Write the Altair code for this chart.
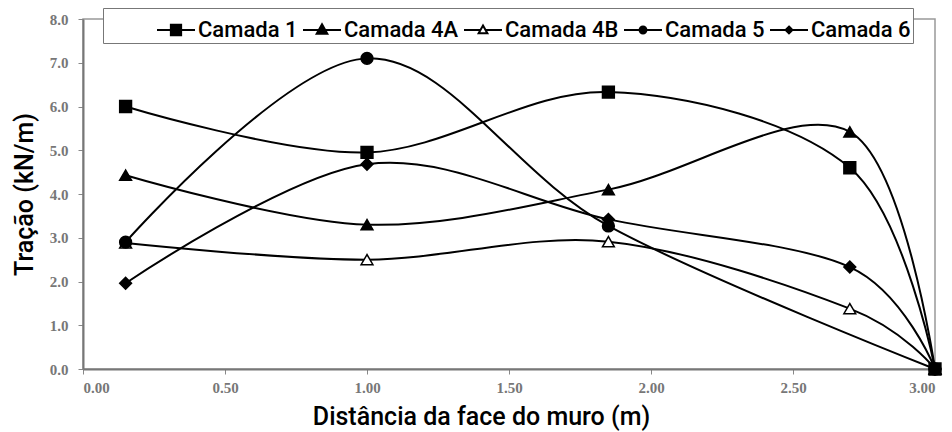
import altair as alt
import pandas as pd

# Tensile force along each reinforcement layer vs. distance from the wall face
series = ["Camada 1", "Camada 4A", "Camada 4B", "Camada 5", "Camada 6"]

dist_c1 = [0.15, 1.00, 1.85, 2.70, 3.00]
trac_c1 = [6.0, 4.95, 6.33, 4.6, 0.0]

dist_c4a = [0.15, 1.00, 1.85, 2.70, 3.00]
trac_c4a = [4.43, 3.3, 4.1, 5.42, 0.0]

dist_c4b = [0.15, 1.00, 1.85, 2.70, 3.00]
trac_c4b = [2.88, 2.5, 2.91, 1.38, 0.0]

dist_c5 = [0.15, 1.00, 1.85, 3.00]
trac_c5 = [2.9, 7.1, 3.27, 0.0]

dist_c6 = [0.15, 1.00, 1.85, 2.70, 3.00]
trac_c6 = [1.96, 4.68, 3.42, 2.33, 0.0]

x_ticks = [0.0, 0.5, 1.0, 1.5, 2.0, 2.5, 3.0]
y_ticks = [0, 1, 2, 3, 4, 5, 6, 7, 8]

rows = []
for name, xs, ys in zip(
    series,
    [dist_c1, dist_c4a, dist_c4b, dist_c5, dist_c6],
    [trac_c1, trac_c4a, trac_c4b, trac_c5, trac_c6],
):
    for xv, yv in zip(xs, ys):
        rows.append({"serie": name, "dist": xv, "tracao": yv})
df = pd.DataFrame(rows)

marker_shapes = ["square", "triangle-up", "triangle-up", "circle", "diamond"]
marker_fills = ["black", "black", "white", "black", "black"]
marker_strokes = ["black"] * 5

# legend glyphs: a short line with the marker in the middle
legend_shapes = [
    "M-1,0H-0.27M0.27,0H1M-0.27,-0.27H0.27V0.27H-0.27Z",
    "M-1,0H-0.16M0.16,0H1M0,-0.3L0.28,0.2H-0.28Z",
    "M-1,0H-0.13M0.13,0H1M0,-0.24L0.23,0.17H-0.23Z",
    "M-1,0H-0.18M0.18,0H1M-0.18,0A0.18,0.18 0 1,0 0.18,0A0.18,0.18 0 1,0 -0.18,0Z",
    "M-1,0H-0.18M0.18,0H1M0,-0.18L0.18,0L0,0.18L-0.18,0Z",
]


def series_legend():
    return alt.Legend(
        title=" ",
        titleOrient="left",
        titlePadding=51,
        orient="none",
        legendX=20,
        legendY=-11,
        direction="horizontal",
        columns=5,
        symbolSize=1444,
        symbolStrokeWidth=2,
        symbolOpacity=1,
        labelFont="Roboto",
        labelFontSize=22,
        labelFontWeight=500,
        labelColor="black",
        labelOffset=2,
        columnPadding=1,
        padding=2,
        strokeColor="#777",
        fillColor="white",
    )


x_enc = alt.X(
    "dist:Q",
    scale=alt.Scale(domain=[0, 3], nice=False, zero=False),
    axis=alt.Axis(
        values=x_ticks,
        format=".2f",
        title="Distância da face do muro (m)",
        titleX=398,
        titleY=55,
        titleBaseline="alphabetic",
        titleAlign="center",
        labelPadding=6,
    ),
)
y_enc = alt.Y(
    "tracao:Q",
    scale=alt.Scale(domain=[0, 8], nice=False),
    axis=alt.Axis(
        values=y_ticks,
        format=".1f",
        title="Tração (kN/m)",
        titleX=-51,
        titleY=175,
        titleAngle=270,
        titleBaseline="alphabetic",
        titleAlign="center",
        labelPadding=10,
    ),
)

base = alt.Chart(df)

lines = base.mark_line(
    interpolate="cardinal", tension=0, color="black", strokeWidth=2
).encode(x=x_enc, y=y_enc, detail="serie:N", order="dist:Q")

points = base.mark_point(filled=False, stroke="black", strokeWidth=1.5, opacity=1).encode(
    x="dist:Q",
    y="tracao:Q",
    shape=alt.Shape("serie:N", scale=alt.Scale(domain=series, range=marker_shapes), legend=None),
    fill=alt.Fill("serie:N", scale=alt.Scale(domain=series, range=marker_fills), legend=None),
    size=alt.value(140),
)

# invisible layer that only carries the series legend
legend_layer = base.mark_point(filled=False, opacity=0).encode(
    x="dist:Q",
    y="tracao:Q",
    shape=alt.Shape(
        "serie:N",
        scale=alt.Scale(domain=series, range=legend_shapes),
        legend=series_legend(),
    ),
    fill=alt.Fill(
        "serie:N",
        scale=alt.Scale(domain=series, range=marker_fills),
        legend=series_legend(),
    ),
    stroke=alt.Stroke(
        "serie:N",
        scale=alt.Scale(domain=series, range=marker_strokes),
        legend=series_legend(),
    ),
)

chart = (
    alt.layer(lines, points, legend_layer)
    .resolve_scale(shape="independent", fill="independent", stroke="independent")
    .properties(
        width=852,
        height=350,
        autosize=alt.AutoSizeParams(type="none"),
        padding={"left": 83, "top": 19, "right": 17, "bottom": 63},
        background="white",
    )
    .configure_view(stroke="#999", strokeWidth=1.5)
    .configure_axis(
        grid=False,
        domainColor="#777",
        domainWidth=2,
        tickColor="#888",
        tickSize=5,
        labelFont="Liberation Serif",
        labelFontSize=15,
        labelFontWeight="bold",
        labelColor="#777",
        titleFont="Roboto",
        titleFontSize=25,
        titleFontWeight=500,
        titleColor="black",
    )
)

chart.save("out.html", embed_options={"renderer": "svg", "actions": False})
